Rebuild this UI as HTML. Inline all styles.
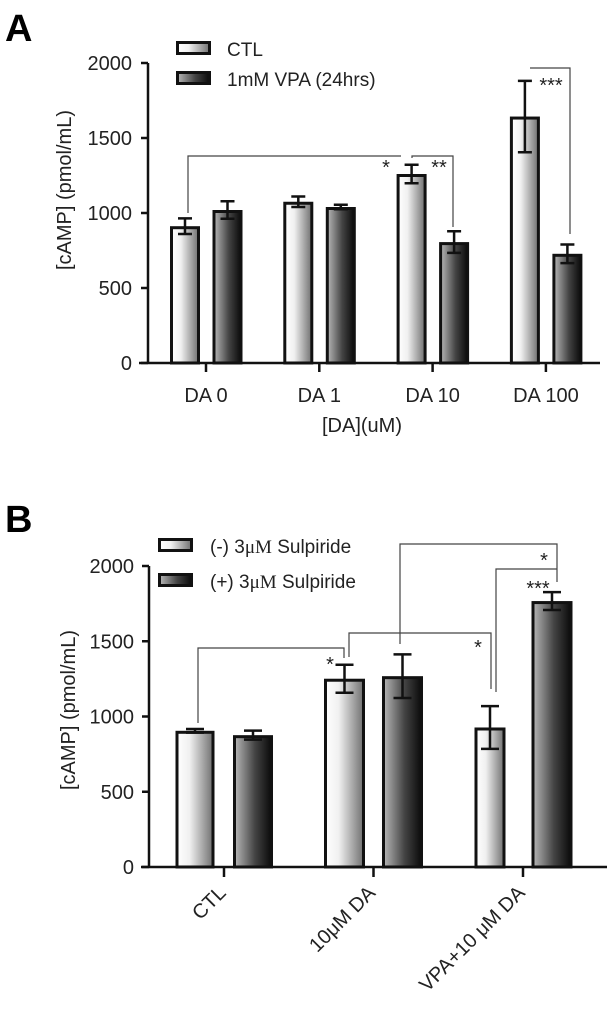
<!DOCTYPE html>
<html><head><meta charset="utf-8">
<style>
html,body{margin:0;padding:0;background:#fff;}
svg{display:block;font-family:"Liberation Sans",Arial,sans-serif;}
</style></head>
<body>
<svg id="chart" width="607" height="1011" viewBox="0 0 607 1011" xmlns="http://www.w3.org/2000/svg">
<defs>
<linearGradient id="gCtl" x1="0" x2="1" y1="0" y2="0"><stop offset="0" stop-color="#ffffff"/><stop offset="0.35" stop-color="#f0f0f0"/><stop offset="1" stop-color="#707070"/></linearGradient>
<linearGradient id="gVpa" x1="0" x2="1" y1="0" y2="0"><stop offset="0" stop-color="#b8b8b8"/><stop offset="0.55" stop-color="#444"/><stop offset="1" stop-color="#0a0a0a"/></linearGradient>
</defs>
</svg>
<script>
// ---------- Panel A data ----------
const catsA = ["DA 0","DA 1","DA 10","DA 100"];
const ctlA = [912, 1075, 1260, 1643];
const ctlErrA = [52, 35, 62, 238];
const vpaA = [1020, 1040, 806, 728];
const vpaErrA = [58, 15, 72, 62];
const ticksA = [0, 500, 1000, 1500, 2000];
// ---------- Panel B data ----------
const catsB = ["CTL","10\u03bcM DA","VPA+10  \u03bcM DA"];
const minusB = [905, 1251, 927];
const minusErrB = [12, 93, 142];
const plusB = [876, 1268, 1767];
const plusErrB = [30, 145, 59];
const ticksB = [0, 500, 1000, 1500, 2000];

const NS = "http://www.w3.org/2000/svg";
const svg = document.getElementById("chart");
function mk(tag, attrs, parent){
  const e = document.createElementNS(NS, tag);
  for (const k in attrs) e.setAttribute(k, attrs[k]);
  (parent||svg).appendChild(e);
  return e;
}
function txt(s, attrs, parent){ const t = mk("text", attrs, parent); t.textContent = s; return t; }

// ---------- Panel A ----------
const gA = mk("g", {});


const yA = v => 363 - v * 0.15;
const xA = i => 206 + i * 113.3;
const lbA = txt("A", {x:5, y:41, "font-size":38, "font-weight":"bold"}, gA);



const barWA = 30;
catsA.forEach((c,i)=>{
  [[ctlA, ctlErrA, -21, "url(#gCtl)", "ctl"],[vpaA, vpaErrA, 21.5, "url(#gVpa)", "vpa"]].forEach(([vals, errs, off, fill, nm])=>{
    const cx = xA(i) + off, top = yA(vals[i]);
    const r = mk("rect", {x:cx-barWA/2+1.5, y:top+1.5, width:barWA-3, height:yA(0)-top-1.5, fill:fill, stroke:"#111", "stroke-width":3}, gA);
    
    
    const eb = mk("path", {d:`M${cx},${yA(vals[i]+errs[i])}V${yA(vals[i]-errs[i])}M${cx-7},${yA(vals[i]+errs[i])}H${cx+7}M${cx-7},${yA(vals[i]-errs[i])}H${cx+7}`, stroke:"#111", "stroke-width":2.5, fill:"none"}, gA);
    
    
  });
  const tk = mk("line", {x1:xA(i), x2:xA(i), y1:yA(0), y2:yA(0)+9, stroke:"#111", "stroke-width":2.5}, gA);
  
  
  const tl = txt(c, {x:xA(i), y:402, "font-size":20, "text-anchor":"middle", fill:"#222"}, gA);
  
  
});
const axA = mk("path", {d:`M148,${yA(2000)}V${yA(0)}M139,${yA(0)}H600`, stroke:"#111", "stroke-width":2.5, fill:"none"}, gA);


ticksA.forEach(t=>{
  const l = mk("line", {x1:141, x2:148, y1:yA(t), y2:yA(t), stroke:"#111", "stroke-width":2.5}, gA);
  
  
  const tl = txt(String(t), {x:132, y:yA(t)+7, "font-size":20, "text-anchor":"end", fill:"#222"}, gA);
  
  
});
const ytA = txt("[cAMP] (pmol/mL)", {transform:"translate(71,190) rotate(-90)", "font-size":20, "text-anchor":"middle", fill:"#222"}, gA);


const xtA = txt("[DA](uM)", {x:362, y:432, "font-size":20, "text-anchor":"middle", fill:"#222"}, gA);


// significance A
const sigA = mk("path", {d:"M188,213V156H401M412,158V156H453V227M530,68H570V234", stroke:"#444", "stroke-width":1.2, fill:"none"}, gA);


[["*",386,174],["**",439,174],["***",551,92]].forEach(([s,x,y])=>{
  const t = txt(s, {x:x, y:y, "font-size":20, "text-anchor":"middle", fill:"#222"}, gA);
  
  
});
// legend A
const lgA = mk("g", {}, gA);


[["CTL","url(#gCtl)",41],["1mM VPA (24hrs)","url(#gVpa)",71]].forEach(([s,f,y])=>{
  const r = mk("rect", {x:177.5, y:y+1.5, width:32, height:11, fill:f, stroke:"#111", "stroke-width":3}, lgA);
  
  
  const t = txt(s, {x:227, y:y+15, "font-size":19, fill:"#222"}, lgA);
  
  
});

// ---------- Panel B ----------
const gB = mk("g", {});


const yB = v => 867 - v * 0.1505;
const xB = i => 224 + i * 149.5;
const lbB = txt("B", {x:5, y:532, "font-size":38, "font-weight":"bold"}, gB);


const offsB = [[-29,29],[-29,29],[-33,29]];
const widthsB = [[39,40],[41,41],[31,41]];
catsB.forEach((c,i)=>{
  [[minusB, minusErrB, 0, "url(#gCtl)", "minus-sulpiride"],[plusB, plusErrB, 1, "url(#gVpa)", "plus-sulpiride"]].forEach(([vals, errs, k, fill, nm])=>{
    const cx = xB(i) + offsB[i][k], w = widthsB[i][k], top = yB(vals[i]);
    const r = mk("rect", {x:cx-w/2+1.5, y:top+1.5, width:w-3, height:yB(0)-top-1.5, fill:fill, stroke:"#111", "stroke-width":3}, gB);
    
    
    const eb = mk("path", {d:`M${cx},${yB(vals[i]+errs[i])}V${yB(vals[i]-errs[i])}M${cx-9},${yB(vals[i]+errs[i])}H${cx+9}M${cx-9},${yB(vals[i]-errs[i])}H${cx+9}`, stroke:"#111", "stroke-width":2.5, fill:"none"}, gB);
    
    
  });
  const tk = mk("line", {x1:xB(i), x2:xB(i), y1:yB(0), y2:yB(0)+10, stroke:"#111", "stroke-width":2.5}, gB);
  
  
  const tl = txt(c, {transform:`translate(${xB(i)+3},${yB(0)+27}) rotate(-45)`, "font-size":20, "text-anchor":"end", fill:"#222", "xml:space":"preserve"}, gB);
  
  
});
const axB = mk("path", {d:`M149,${yB(2000)}V${yB(0)}M141,${yB(0)}H607`, stroke:"#111", "stroke-width":2.5, fill:"none"}, gB);


ticksB.forEach(t=>{
  const l = mk("line", {x1:142, x2:149, y1:yB(t), y2:yB(t), stroke:"#111", "stroke-width":2.5}, gB);
  
  
  const tl = txt(String(t), {x:134, y:yB(t)+7, "font-size":20, "text-anchor":"end", fill:"#222"}, gB);
  
  
});
const ytB = txt("[cAMP] (pmol/mL)", {transform:"translate(75,710) rotate(-90)", "font-size":20, "text-anchor":"middle", fill:"#222"}, gB);


const sigB = mk("path", {d:"M198,723V648H344V658M349,657V633H491V689M400,644V544H557V582M496,692V569H557", stroke:"#444", "stroke-width":1.2, fill:"none"}, gB);


[["*",330,671],["*",478,654],["*",544,567],["***",538,595]].forEach(([s,x,y])=>{
  const t = txt(s, {x:x, y:y, "font-size":20, "text-anchor":"middle", fill:"#222"}, gB);
  
  
});
const lgB = mk("g", {}, gB);


[["(-) 3","url(#gCtl)",538],["(+) 3","url(#gVpa)",573]].forEach(([s,f,y])=>{
  const r = mk("rect", {x:159.5, y:y+1.5, width:32, height:11, fill:f, stroke:"#111", "stroke-width":3}, lgB);
  
  
  const t = txt("", {x:210, y:y+15, "font-size":19, fill:"#222"}, lgB);
  
  
  const a = mk("tspan", {}, t); a.textContent = s;
  const m = mk("tspan", {"font-family":"Liberation Serif, serif"}, t); m.textContent = "\u03bcM";
  const b = mk("tspan", {}, t); b.textContent = " Sulpiride";
});
</script>
</body></html>
